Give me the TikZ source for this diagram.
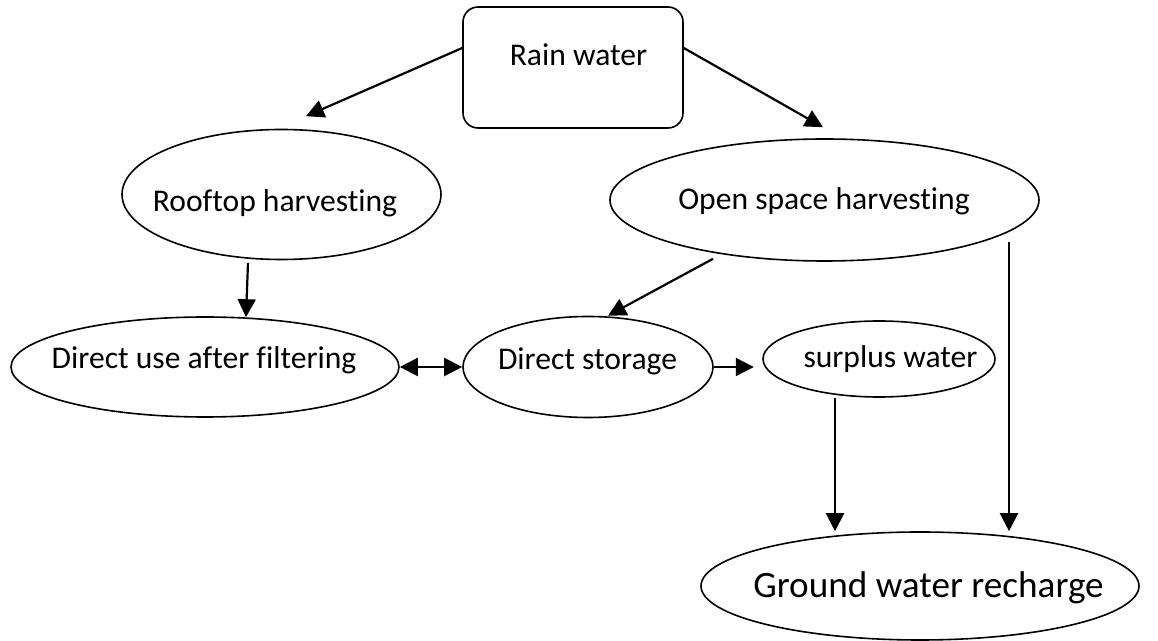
\documentclass[tikz,border=0pt]{standalone}
\usepackage{fontspec}
\setmainfont{Carlito}[Ligatures=NoCommon]
\usetikzlibrary{shapes.geometric,arrows.meta}

\tikzset{
  blob/.style={draw,ellipse,line width=0.8pt,inner sep=0pt},
  rbox/.style={draw,rounded corners=7.5pt,line width=0.8pt,inner sep=0pt},
  lbl/.style={anchor=base,inner sep=0pt,font=\fontsize{15.8}{19}\selectfont},
  flow/.style={-{Triangle[length=9pt,width=9pt]},line width=1.1pt},
  twoway/.style={{Triangle[length=9pt,width=9pt]}-{Triangle[length=9pt,width=9pt]},line width=1.1pt}
}

\begin{document}
\begin{tikzpicture}[x=0.5pt,y=-0.5pt]
\useasboundingbox (0,0) rectangle (1158,641);
% shapes
\node[rbox,minimum width=110pt,minimum height=60.5pt] (rain) at (573,67.5) {};
\node[blob,minimum width=159.5pt,minimum height=65pt] (roof) at (281.5,194.5) {};
\node[blob,minimum width=214.5pt,minimum height=61pt] (open) at (824.5,200) {};
\node[blob,minimum width=194pt,minimum height=50pt] (use) at (205,367) {};
\node[blob,minimum width=125pt,minimum height=50.5pt] (store) at (588,367) {};
\node[blob,minimum width=116pt,minimum height=38pt] (surp) at (879,359) {};
\node[blob,minimum width=219pt,minimum height=54pt] (gw) at (920,586) {};
% texts
\node[lbl] (rainT) at (578.5,66) {Rain water};
\node[lbl] (roofT) at (275,212) {Rooftop harvesting};
\node[lbl] (openT) at (824,210) {Open space harvesting};
\node[lbl] (useT) at (204,369) {Direct use after filtering};
\node[lbl] (storeT) at (587.5,370) {Direct storage};
\node[lbl] (surpT) at (890.5,368) {surplus water};
\node[lbl,font=\fontsize{18.6}{22}\selectfont] (gwT) at (928.5,598) {Ground water recharge};
% arrows
\draw[flow] ([yshift=9.75pt]rain.west) -- ([xshift=12.25pt,yshift=6.25pt]roof.north);
\draw[flow] ([yshift=9.75pt]rain.east) -- ([xshift=-0.75pt,yshift=5.5pt]open.north);
\draw[flow] ([xshift=-16.75pt,yshift=-1.25pt]roof.south) -- ([xshift=20.5pt,yshift=-0.5pt]use.north);
\draw[flow] ([xshift=-55.75pt,yshift=1.5pt]open.south) -- ([xshift=10pt]store.north);
\draw[twoway] (use.east) -- (store.west);
\draw[flow] (store.east) -- ++(20pt,0);
\draw[flow] ([xshift=-22pt]surp.south) coordinate (s1) -- (s1 |- gw.north);
\draw[flow] ([xshift=92.25pt,yshift=-21pt]open.center) coordinate (o1) -- (o1 |- gw.north);
\end{tikzpicture}
\end{document}
